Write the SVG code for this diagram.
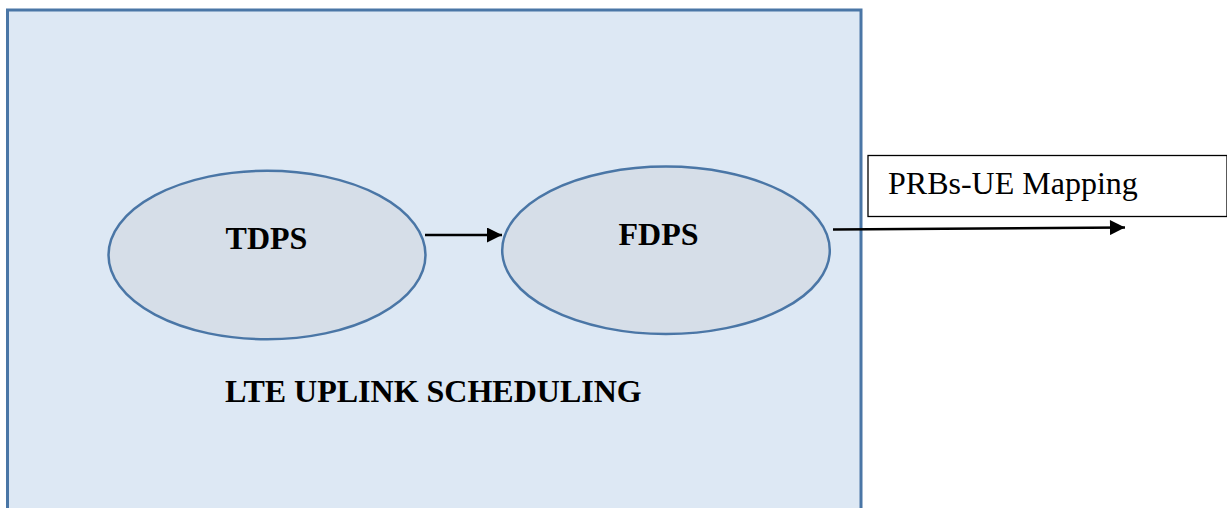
<svg xmlns="http://www.w3.org/2000/svg" width="1227" height="508" viewBox="0 0 1227 508">
<style>
.bold{font-family:"Liberation Serif","Times New Roman",serif;font-weight:bold;font-size:32px;fill:#000}
.reg{font-family:"Liberation Serif","Times New Roman",serif;font-size:32px;fill:#000}
.ell{fill:#d6dee8;stroke:#4a76a6;stroke-width:2.5}
.conn{stroke:#000;stroke-width:2.5;fill:none}
</style>
<defs>
<marker id="arr" viewBox="0 0 10 10" refX="10" refY="5" markerWidth="6.5" markerHeight="6" orient="auto" markerUnits="strokeWidth">
<path d="M0,0 L10,5 L0,10 Z" fill="#000"/>
</marker>
</defs>
<rect width="1227" height="508" fill="#fff"/>
<g id="container">
<rect x="7.5" y="10" width="853.5" height="510" fill="#dde8f4" stroke="#4a76a6" stroke-width="3"/>
<text class="bold" x="225" y="402">LTE UPLINK SCHEDULING</text>
</g>
<g id="tdps">
<ellipse class="ell" cx="267" cy="255" rx="158.5" ry="84.3"/>
<text class="bold" x="266.5" y="249" text-anchor="middle">TDPS</text>
</g>
<g id="fdps">
<ellipse class="ell" cx="666" cy="250.3" rx="163.8" ry="83.7"/>
<text class="bold" x="658.5" y="245" text-anchor="middle">FDPS</text>
</g>
<g id="prbs">
<rect x="868" y="155.5" width="359" height="61" fill="#fff" stroke="#000" stroke-width="1.3"/>
<text class="reg" x="888" y="194">PRBs-UE Mapping</text>
</g>
<g id="connectors">
<line class="conn" x1="425" y1="235" x2="502" y2="235" marker-end="url(#arr)"/>
<line class="conn" x1="833" y1="229.5" x2="1125" y2="227.5" marker-end="url(#arr)"/>
</g>
</svg>
